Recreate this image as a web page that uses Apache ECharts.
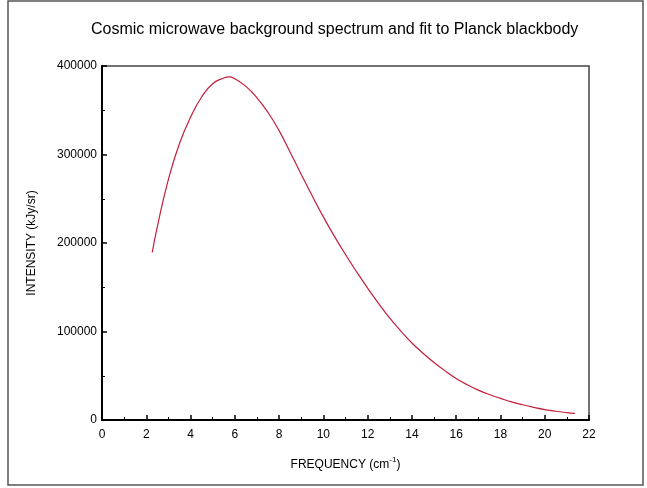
<!DOCTYPE html>
<html>
  <head>
    <meta charset="utf-8" />
    <title>CMB spectrum</title>
    <script src="https://cdn.jsdelivr.net/npm/echarts@6/dist/echarts.min.js"></script>
  </head>
  <body style="margin:0">
    <style>
      html, body { margin: 0; background: #fff; }
      #main { width: 647px; height: 488px; }
    </style>
    <div id="main"></div>
    <script type="text/javascript">
      // values: frequency (cm^-1) and intensity (kJy/sr)
      var freq = [2.27, 2.5, 3.0, 3.5, 4.0, 4.5, 5.0, 5.5, 5.75, 6.0, 6.5, 7.0, 7.5, 8.0, 8.5, 9.0,
                  9.5, 10.0, 10.5, 11.0, 11.5, 12.0, 12.5, 13.0, 13.5, 14.0, 14.5, 15.0,
                  15.5, 16.0, 16.5, 17.0, 17.5, 18.0, 18.5, 19.0, 19.5, 20.0, 20.5, 21.0, 21.36];
      var intensity = [189500, 218500, 272000, 312500, 342000, 365000, 380000, 386500, 387700,
                       385600, 377000, 364000, 347500, 327000, 302500, 277500, 253000, 229500,
                       207500, 187000, 167500, 149000, 131500, 115000, 100500, 87000, 75500,
                       65000, 55500, 47000, 39800, 33800, 28800, 24500, 20500, 17200, 14300,
                       11800, 9900, 8400, 7500];
      var titleText = 'Cosmic microwave background spectrum and fit to Planck blackbody';

      var myChart = echarts.init(document.getElementById('main'));
      var font = "'Liberation Sans', Arial, sans-serif";

      var option = {
        animation: false,
        textStyle: { fontFamily: font },
        title: {
          text: titleText,
          left: 86,
          top: 17,
          textStyle: { fontSize: 16, fontWeight: 'normal', color: '#000', fontFamily: font }
        },
        graphic: [{
          type: 'rect',
          shape: { x: 8, y: 1, width: 635, height: 484 },
          style: { fill: 'none', stroke: '#555', lineWidth: 1.5 },
          silent: true
        }],
        grid: {
          left: 102,
          right: 58,
          top: 66,
          bottom: 68,
          show: true,
          borderColor: '#444',
          borderWidth: 1.5
        },
        xAxis: {
          type: 'value',
          min: 0,
          max: 22,
          interval: 2,
          name: '{a|FREQUENCY (cm}{s|-1}{a|)}',
          nameLocation: 'middle',
          nameGap: 36,
          nameTextStyle: {
            rich: {
              a: { fontSize: 12, color: '#000', fontFamily: font },
              s: { fontSize: 8, color: '#000', fontFamily: font, padding: [0, 0, 9, 0] }
            }
          },
          axisLine: { lineStyle: { color: '#000', width: 2 } },
          axisTick: { inside: true, length: 5, lineStyle: { color: '#000', width: 1.5 } },
          minorTick: { show: true, splitNumber: 2, length: 3, lineStyle: { color: '#000', width: 1 } },
          axisLabel: { color: '#000', fontSize: 12, margin: 9, fontFamily: font },
          splitLine: { show: false }
        },
        yAxis: {
          type: 'value',
          min: 0,
          max: 400000,
          interval: 100000,
          name: 'INTENSITY (kJy/sr)',
          nameLocation: 'middle',
          nameGap: 64,
          nameTextStyle: { fontSize: 12, color: '#000', fontFamily: font },
          axisLine: { show: true, lineStyle: { color: '#000', width: 2 } },
          axisTick: { show: true, inside: true, length: 5, lineStyle: { color: '#000', width: 1.5 } },
          minorTick: { show: true, splitNumber: 2, length: 3, lineStyle: { color: '#000', width: 1 } },
          axisLabel: {
            color: '#000', fontSize: 12, margin: 5, fontFamily: font,
            formatter: function (v) { return String(v); }
          },
          splitLine: { show: false }
        },
        series: [{
          type: 'line',
          data: freq.map(function (f, i) { return [f, intensity[i]]; }),
          smooth: 0.5,
          symbol: 'none',
          lineStyle: { color: '#c41e3a', width: 1.2 }
        }]
      };

      myChart.setOption(option);
    </script>
  </body>
</html>
